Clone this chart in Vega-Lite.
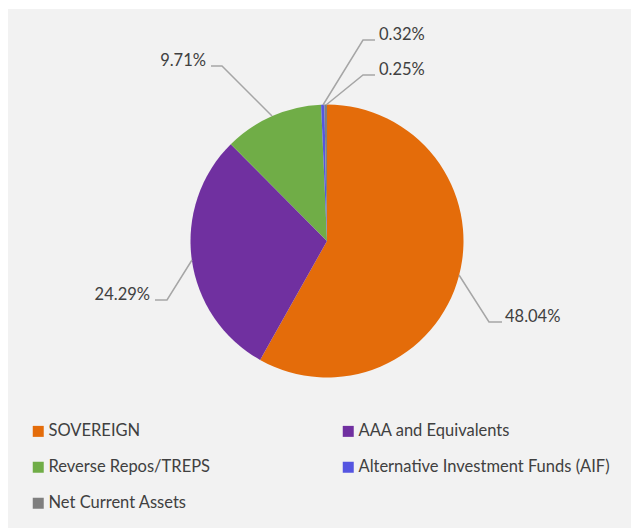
{
  "$schema": "https://vega.github.io/schema/vega-lite/v6.json",
  "width": 623,
  "height": 519,
  "autosize": {"type": "none"},
  "padding": {"left": 8, "top": 9, "right": 0, "bottom": 1},
  "background": "white",
  "config": {"view": {"fill": "#F2F2F2", "stroke": null}, "font": "Lato"},
  "datasets": {
    "slices": [
      {"category": "SOVEREIGN", "share": 48.04, "rank": 1},
      {"category": "AAA and Equivalents", "share": 24.29, "rank": 2},
      {"category": "Reverse Repos/TREPS", "share": 9.71, "rank": 3},
      {"category": "Alternative Investment Funds (AIF)", "share": 0.32, "rank": 4},
      {"category": "Net Current Assets", "share": 0.25, "rank": 5}
    ],
    "leaders": [
      {"id": "SOV", "step": 1, "x": 132, "y": -34},
      {"id": "SOV", "step": 2, "x": 162, "y": -81},
      {"id": "SOV", "step": 3, "x": 175, "y": -81},
      {"id": "AAA", "step": 1, "x": -135, "y": -19},
      {"id": "AAA", "step": 2, "x": -160, "y": -59},
      {"id": "AAA", "step": 3, "x": -172, "y": -59},
      {"id": "REP", "step": 1, "x": -55, "y": 125},
      {"id": "REP", "step": 2, "x": -105, "y": 175},
      {"id": "REP", "step": 3, "x": -116, "y": 175},
      {"id": "AIF", "step": 1, "x": -4, "y": 136},
      {"id": "AIF", "step": 2, "x": 36, "y": 201},
      {"id": "AIF", "step": 3, "x": 48, "y": 201},
      {"id": "NCA", "step": 1, "x": -1, "y": 136},
      {"id": "NCA", "step": 2, "x": 36, "y": 166},
      {"id": "NCA", "step": 3, "x": 48, "y": 166}
    ],
    "labels": [
      {"text": "48.04%", "x": 178, "y": -76, "anchor": "start"},
      {"text": "24.29%", "x": -177, "y": -54, "anchor": "end"},
      {"text": "9.71%", "x": -121, "y": 180, "anchor": "end"},
      {"text": "0.32%", "x": 52, "y": 206, "anchor": "start"},
      {"text": "0.25%", "x": 52, "y": 171, "anchor": "start"}
    ]
  },
  "layer": [
    {
      "data": {"name": "slices"},
      "mark": {"type": "arc", "outerRadius": 136.5, "stroke": null},
      "encoding": {
        "theta": {"field": "share", "type": "quantitative", "stack": true},
        "order": {"field": "rank", "type": "quantitative"},
        "color": {
          "field": "category",
          "type": "nominal",
          "scale": {
            "domain": ["SOVEREIGN", "AAA and Equivalents", "Reverse Repos/TREPS", "Alternative Investment Funds (AIF)", "Net Current Assets"],
            "range": ["#E46C0A", "#7030A0", "#70AD47", "#5555E1", "#7F7F7F"]
          },
          "legend": {
            "orient": "none",
            "direction": "horizontal",
            "legendX": 22,
            "legendY": 414,
            "columns": 2,
            "title": null,
            "symbolType": "square",
            "symbolSize": 121,
            "symbolStrokeWidth": 0,
            "labelFont": "Lato",
            "labelFontSize": 16.5,
            "labelColor": "#404040",
            "labelOffset": 2,
            "labelLimit": 400,
            "columnPadding": 129,
            "rowPadding": 19
          }
        },
        "x": {"datum": 0, "type": "quantitative", "scale": {"domain": [-319, 304], "nice": false, "zero": false}, "axis": null},
        "y": {"datum": 0, "type": "quantitative", "scale": {"domain": [-287, 232], "nice": false, "zero": false}, "axis": null}
      }
    },
    {
      "data": {"name": "leaders"},
      "mark": {"type": "line", "color": "#A6A6A6", "strokeWidth": 1.5},
      "encoding": {
        "x": {"field": "x", "type": "quantitative", "axis": null},
        "y": {"field": "y", "type": "quantitative", "axis": null},
        "detail": {"field": "id"},
        "order": {"field": "step", "type": "quantitative"}
      }
    },
    {
      "data": {"name": "labels"},
      "transform": [{"filter": "datum.anchor == 'start'"}],
      "mark": {"type": "text", "align": "left", "baseline": "middle", "fontSize": 16.5, "color": "#404040", "font": "Lato"},
      "encoding": {
        "x": {"field": "x", "type": "quantitative", "axis": null},
        "y": {"field": "y", "type": "quantitative", "axis": null},
        "text": {"field": "text"}
      }
    },
    {
      "data": {"name": "labels"},
      "transform": [{"filter": "datum.anchor == 'end'"}],
      "mark": {"type": "text", "align": "right", "baseline": "middle", "fontSize": 16.5, "color": "#404040", "font": "Lato"},
      "encoding": {
        "x": {"field": "x", "type": "quantitative", "axis": null},
        "y": {"field": "y", "type": "quantitative", "axis": null},
        "text": {"field": "text"}
      }
    }
  ]
}
